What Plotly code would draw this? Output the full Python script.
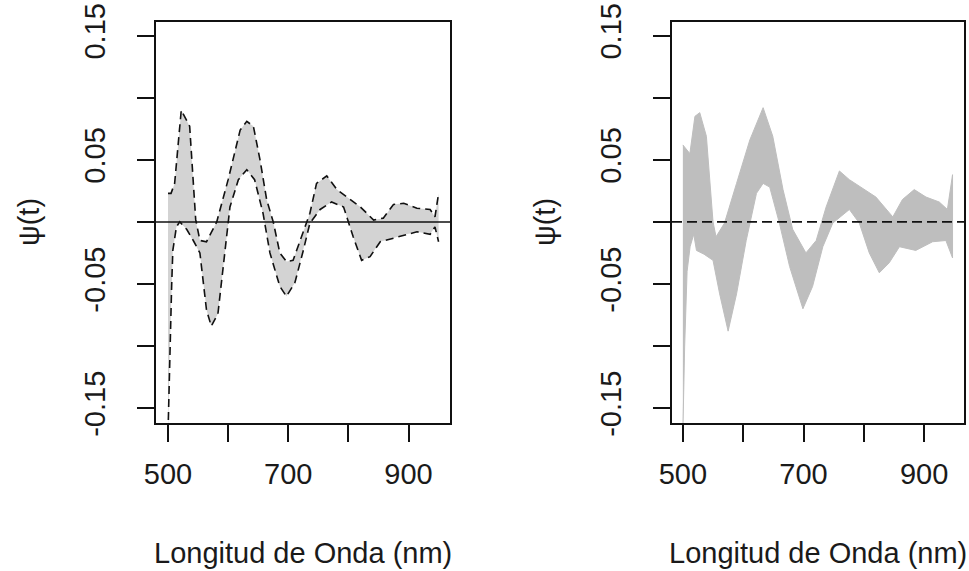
import plotly.graph_objects as go

# ---- Data ----
# Left panel: upper and lower envelope (dashed) of psi(t)
upper_wl = [500, 505, 511, 522, 536, 542, 546, 553, 564, 581, 600, 620, 631, 642, 653, 664,
            675, 686, 697, 708, 720, 736, 747, 764, 781, 797, 820, 842, 858, 875, 892, 914,
            936, 944, 950]
upper_val = [0.023, 0.023, 0.031, 0.090, 0.077, 0.034, 0.002, -0.015, -0.016, 0.000, 0.034,
             0.074, 0.081, 0.077, 0.050, 0.018, 0.000, -0.025, -0.032, -0.031, -0.015, 0.007,
             0.031, 0.037, 0.026, 0.020, 0.012, 0.0015, 0.003, 0.014, 0.015, 0.011, 0.010,
             0.004, 0.023]
lower_wl = [500, 503, 506, 508, 514, 519.5, 531, 542, 553, 564, 572, 583, 594.5, 603, 617,
            631, 644, 658, 669.5, 686, 697, 711, 725, 736, 753, 772, 792, 808, 822, 836, 853,
            875, 897, 914, 936, 944, 950]
lower_val = [-0.170, -0.103, -0.052, -0.023, -0.004, 0.000, -0.006, -0.015, -0.025, -0.071,
             -0.084, -0.074, -0.025, 0.012, 0.034, 0.042, 0.034, 0.007, -0.025, -0.052,
             -0.060, -0.049, -0.023, -0.001, 0.010, 0.016, 0.012, -0.012, -0.031, -0.028,
             -0.016, -0.013, -0.010, -0.008, -0.010, -0.004, -0.016]

# Right panel: band covered by all the individual curves
band_up_wl = [500, 511.6, 520, 528, 539, 550, 555, 569, 589, 611, 633, 649, 666, 682, 704,
              721, 737.5, 759.5, 776, 798, 820, 848, 864, 883.5, 903, 925, 938.5, 947]
band_up_val = [0.062, 0.055, 0.085, 0.088, 0.069, 0.000, -0.012, -0.001, 0.031, 0.066, 0.092,
               0.069, 0.026, -0.006, -0.025, -0.015, 0.012, 0.041, 0.034, 0.027, 0.020,
               0.004, 0.018, 0.026, 0.020, 0.016, 0.010, 0.038]
band_lo_wl = [500, 503, 507, 512, 518, 522.6, 535, 550, 561, 575, 589, 605, 622, 633, 644,
              660, 677, 699, 715, 732, 748.5, 776, 792.5, 809, 825.6, 842, 859, 886, 914,
              936, 947]
band_lo_val = [-0.170, -0.100, -0.040, -0.020, -0.010, -0.023, -0.026, -0.031, -0.058, -0.088,
               -0.058, -0.015, 0.023, 0.031, 0.028, -0.001, -0.036, -0.070, -0.052, -0.020,
               -0.001, 0.010, -0.001, -0.025, -0.041, -0.033, -0.020, -0.023, -0.016, -0.015,
               -0.029]

x_ticks = [500, 600, 700, 800, 900]
x_tick_labels = ["500", "", "700", "", "900"]
y_ticks = [-0.15, -0.10, -0.05, 0.0, 0.05, 0.10, 0.15]
y_tick_labels = ["-0.15", "", "-0.05", "", "0.05", "", "0.15"]
x_title = "Longitud de Onda (nm)"
y_title = "ψ(t)"

FONT = "Liberation Sans, Arial, sans-serif"
TXT = "#1a1a1a"
FS = 29

fig = go.Figure()

# Left panel: filled region between envelopes
fig.add_trace(go.Scatter(
    x=upper_wl + lower_wl[::-1], y=upper_val + lower_val[::-1],
    fill="toself", fillcolor="#d3d3d3", line=dict(width=0), mode="lines",
    hoverinfo="skip", showlegend=False, xaxis="x", yaxis="y"))
fig.add_trace(go.Scatter(
    x=[480, 969], y=[0, 0], mode="lines", line=dict(color="#111111", width=1.5),
    showlegend=False, xaxis="x", yaxis="y"))
fig.add_trace(go.Scatter(
    x=upper_wl, y=upper_val, mode="lines",
    line=dict(color="#111111", width=1.6, dash="8px,5px"),
    showlegend=False, xaxis="x", yaxis="y"))
fig.add_trace(go.Scatter(
    x=lower_wl, y=lower_val, mode="lines",
    line=dict(color="#111111", width=1.6, dash="8px,5px"),
    showlegend=False, xaxis="x", yaxis="y"))

# Right panel: band of curves
fig.add_trace(go.Scatter(
    x=band_up_wl + band_lo_wl[::-1], y=band_up_val + band_lo_val[::-1],
    fill="toself", fillcolor="#bebebe", line=dict(width=1, color="#bebebe"), mode="lines",
    hoverinfo="skip", showlegend=False, xaxis="x2", yaxis="y2"))
fig.add_trace(go.Scatter(
    x=[482, 966], y=[0, 0], mode="lines",
    line=dict(color="#111111", width=1.6, dash="10px,5px"),
    showlegend=False, xaxis="x2", yaxis="y2"))

W = 969.0
H = 571.0


def px(x):
    return x / W


def py(y):
    return 1 - y / H


ydom = [py(423), py(22)]

axis_common = dict(
    showline=True, mirror=True, linecolor="#111111", linewidth=1.5,
    ticks="outside", ticklen=17, tickwidth=1.5, tickcolor="#111111",
    showgrid=False, zeroline=False, automargin=False, ticklabeloverflow="allow",
    tickfont=dict(family=FONT, size=FS, color=TXT),
)

fig.update_layout(
    template="none",
    width=int(W), height=int(H),
    margin=dict(l=0, r=0, t=0, b=0, pad=0),
    paper_bgcolor="white", plot_bgcolor="white",
    xaxis=dict(domain=[px(156), px(450)], range=[480, 969], tickvals=x_ticks,
               ticktext=x_tick_labels, anchor="y", ticklabelstandoff=7, **axis_common),
    yaxis=dict(domain=ydom, range=[-0.162, 0.161], tickvals=y_ticks,
               ticktext=y_tick_labels, tickangle=-90, anchor="x",
               ticklabelstandoff=21, **axis_common),
    xaxis2=dict(domain=[px(672), px(964)], range=[482, 966], tickvals=x_ticks,
                ticktext=x_tick_labels, anchor="y2", ticklabelstandoff=7, **axis_common),
    yaxis2=dict(domain=ydom, range=[-0.162, 0.161], tickvals=y_ticks,
                ticktext=y_tick_labels, tickangle=-90, anchor="x2",
                ticklabelstandoff=21, **axis_common),
    annotations=[
        dict(text=x_title, x=px(303), y=py(553), xref="paper", yref="paper",
             showarrow=False, xanchor="center", yanchor="middle",
             font=dict(family=FONT, size=FS, color=TXT)),
        dict(text=x_title, x=px(818), y=py(553), xref="paper", yref="paper",
             showarrow=False, xanchor="center", yanchor="middle",
             font=dict(family=FONT, size=FS, color=TXT)),
        dict(text=y_title, x=px(29), y=py(222), xref="paper", yref="paper",
             showarrow=False, xanchor="center", yanchor="middle", textangle=-90,
             font=dict(family=FONT, size=FS, color=TXT)),
        dict(text=y_title, x=px(545), y=py(222), xref="paper", yref="paper",
             showarrow=False, xanchor="center", yanchor="middle", textangle=-90,
             font=dict(family=FONT, size=FS, color=TXT)),
    ],
)

fig.write_html(
    "out.html",
    config={"displayModeBar": False},
    post_script=(
        "document.body.style.margin='0';"
        "document.documentElement.style.overflow='hidden';"
        "document.body.style.overflow='hidden';"
    ),
)
